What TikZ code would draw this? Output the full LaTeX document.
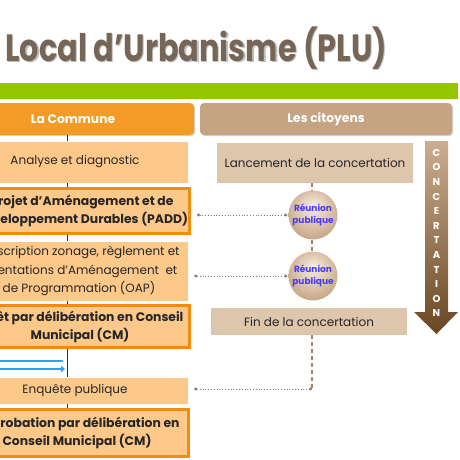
\documentclass[tikz,border=0pt]{standalone}
\usepackage{fontspec}
\setmainfont{Poppins}
\newfontfamily\titlefont[FakeStretch=0.8]{Poppins}
\usetikzlibrary{arrows.meta,shadows,calc}
\definecolor{titlec}{HTML}{756657}
\definecolor{greenbar}{HTML}{94C600}
\definecolor{orangeH}{HTML}{F39B26}
\definecolor{orangeB}{HTML}{F28C0F}
\definecolor{lightO}{HTML}{FCC98B}
\definecolor{tanH}{HTML}{C5A483}
\definecolor{tanL}{HTML}{DEC6AC}
\definecolor{blueT}{HTML}{4A3CF5}
\definecolor{blueA}{HTML}{1FA8EE}
\definecolor{greyc}{HTML}{7F7F7F}
\definecolor{brownD}{HTML}{A5825F}
\pgfdeclareradialshading{reunshade}{\pgfpoint{0bp}{10bp}}{%
  color(0bp)=(white!70!tanL); color(14bp)=(tanL!90!white); color(30bp)=(tanH);
  color(42bp)=(brownD!85!black); color(50bp)=(brownD!70!black)}
\tikzset{
  hdr/.style={rounded corners=4pt, text=white, font=\bfseries\fontsize{12.3}{14}\selectfont,
    drop shadow={shadow xshift=1.2pt, shadow yshift=-1.2pt, opacity=0.35}, inner sep=0pt},
  lbox/.style={fill=lightO, draw=white, line width=0.6pt, align=center, inner sep=0pt,
    font=\fontsize{12}{18.5}\selectfont, text=black!85},
  tbox/.style={lbox, draw=orangeB, line width=3pt, font=\bfseries\fontsize{12.4}{18}\selectfont},
  rbox/.style={fill=tanL, align=center, inner sep=0pt, font=\fontsize{12}{14}\selectfont, text=black!85},
  reunion/.style={circle, minimum size=49pt, inner sep=0pt, align=center,
    shading=reunshade, text=blueT, font=\bfseries\fontsize{9}{12}\selectfont},
  tick/.style={line width=0.9pt, black!80},
  dashb/.style={line width=1.2pt, brownD, dash pattern=on 4pt off 3pt},
  dotconn/.style={greyc, line width=0.8pt, dotted, {Circle[length=3pt]}-{Circle[length=3pt]}},
}
\begin{document}
\begin{tikzpicture}[x=1pt,y=-1pt]
\clip (0,0) rectangle (460,460);
\fill[white] (0,0) rectangle (460,460);
% title
\node[anchor=base west, inner sep=0pt, text=black!25, font=\titlefont\bfseries\fontsize{38}{40}\selectfont] (tsh) at (6.3,62.3) {Local d’Urbanisme (PLU)};
\node[anchor=base west, inner sep=0pt, text=titlec, font=\titlefont\bfseries\fontsize{38}{40}\selectfont] (title) at (5,61) {Local d’Urbanisme (PLU)};
% green bar
\fill[greenbar] (0,83) rectangle (458,99);
% headers
\node[hdr, fill=orangeH, minimum width=242pt, minimum height=32pt] (hL) at (73,119) {La Commune};
\node[hdr, fill=tanH, minimum width=252pt, minimum height=32pt] (hR) at (326,119) {Les citoyens};
% left column
\node[lbox, minimum width=226pt, minimum height=42pt] (b1) at (75,162) {Analyse et diagnostic};
\node[tbox, minimum width=215pt, minimum height=45pt] (b2) at (82,211) {Projet d’Aménagement et de\\Développement Durables (PADD)};
\node[lbox, minimum width=218pt, minimum height=60pt] (b3) at (79,271) {Prescription zonage, règlement et\\Orientations d’Aménagement~ et\\de Programmation (OAP)};
\node[tbox, minimum width=219pt, minimum height=42pt] (b4) at (80,326.5) {Arrêt par délibération en Conseil\\Municipal (CM)};
\node[lbox, minimum width=226pt, minimum height=27pt] (b5) at (75,390.5) {Enquête publique};
\node[tbox, minimum width=223pt, minimum height=47pt] (b6) at (77,433) {Approbation par délibération en\\Conseil Municipal (CM)};
\coordinate (xl) at (67,0);
\draw[tick] (hL.south -| xl) -- (b1.north -| xl);
\draw[tick] (b1.south -| xl) -- (b2.north -| xl);
\draw[tick] (b2.south -| xl) -- (b3.north -| xl);
\draw[tick] (b3.south -| xl) -- (b4.north -| xl);
\draw[tick] (b4.south -| xl) -- (b5.north -| xl);
\draw[tick] (b5.south -| xl) -- (b6.north -| xl);
% blue arrows
\coordinate (ba1) at (0,361);
\coordinate (ba2) at (0,369);
\draw[blueA, line width=2.8pt, line cap=round] (ba1) -- (62,361);
\draw[blueA, line width=2.8pt, -{Triangle[length=4pt,width=6.5pt]}] (ba2) -- (65,369);
% right column
\node[rbox, minimum width=196pt, minimum height=40pt] (lan) at (315,163) {Lancement de la concertation};
\node[reunion] (c1) at (313,215) {Réunion\\publique};
\node[reunion] (c2) at (313,276) {Réunion\\publique};
\node[rbox, minimum width=196pt, minimum height=27pt] (fin) at (309,321.5) {Fin de la concertation};
\coordinate (xr) at (312,0);
\draw[dashb] (lan.south -| xr) -- (c1.north -| xr);
\draw[dashb] (c1.south -| xr) -- (c2.north -| xr);
\coordinate (cb) at (312,389);
\draw[dashb] (fin.south -| xr) -- (cb);
\draw[dotconn] ([xshift=6pt]c1.west -| b2.east) -- ([xshift=-1pt]c1.west);
\draw[dotconn] ([xshift=6pt]c2.west -| b3.east) -- ([xshift=-1pt]c2.west);
\draw[dotconn] ([xshift=6pt]cb -| b5.east) -- (cb);
% concertation arrow
\shade[top color=tanH!90!white, bottom color=brown!55!black]
  (425,141) -- (448,141) -- (448,312) -- (458,312) -- (436.5,334) -- (414,312) -- (425,312) -- cycle;
\node[align=center, inner sep=0pt, text=white, font=\bfseries\fontsize{10}{14.6}\selectfont] (conc) at (436.5,233)
  {C\\O\\N\\C\\E\\R\\T\\A\\T\\I\\O\\N};
\end{tikzpicture}
\end{document}
